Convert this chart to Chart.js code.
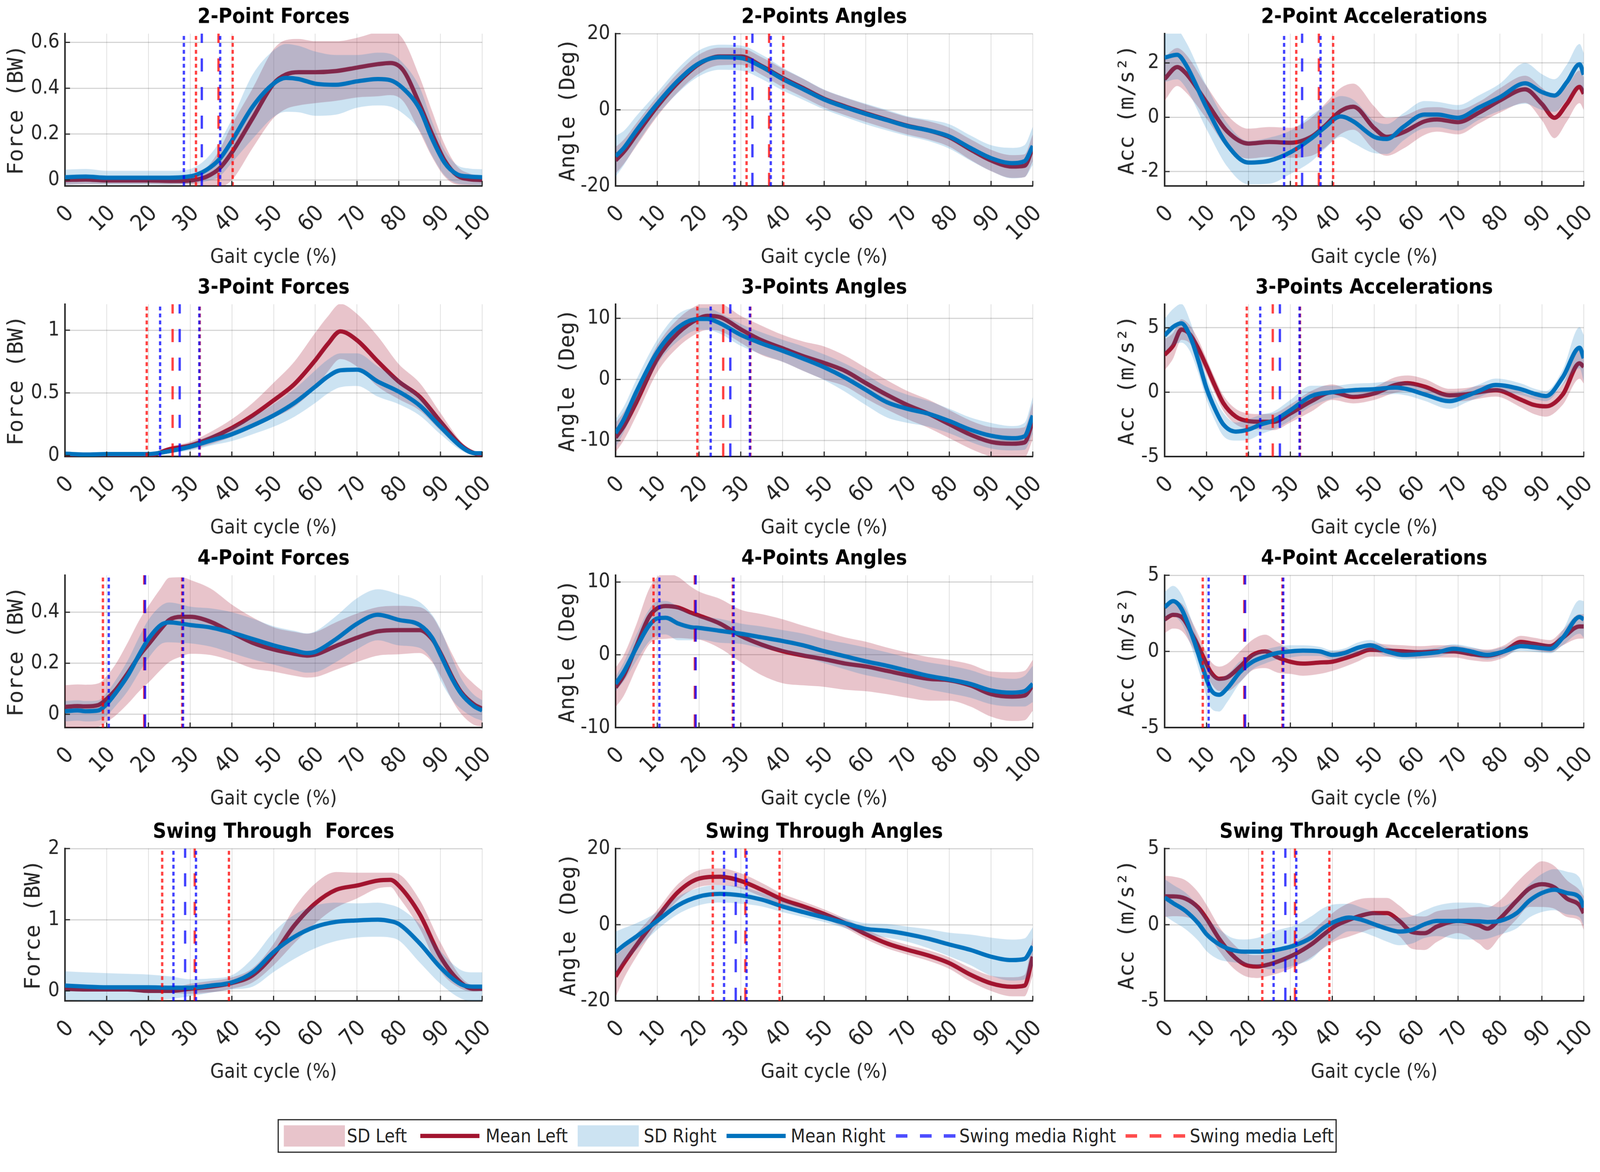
<!DOCTYPE html>
<html>
<head>
<meta charset="utf-8">
<script src="https://cdn.jsdelivr.net/npm/chart.js@4.4.1/dist/chart.umd.min.js"></script>
<style>
  html, body { margin: 0; padding: 0; background: #fff; overflow: hidden; }
  #page { position: absolute; left: 0; top: 0; width: 4138px; height: 3001px; transform-origin: 0 0; background: #fff; }
  .panel { position: absolute; }
  #legend { position: absolute; left: 718px; top: 2895px; width: 2739px; height: 87px; border: 3px solid #262626; box-sizing: border-box; background: #fff;
            font-family: 'DejaVu Sans Condensed', 'DejaVu Sans', sans-serif; }
  .sw { position: absolute; top: 13px; width: 158px; height: 55px; }
  .ln { position: absolute; top: 35px; width: 153px; height: 11px; }
  .ds { position: absolute; top: 36px; width: 156px; height: 9px; background: repeating-linear-gradient(90deg, var(--c) 0 30px, transparent 30px 62px); }
  .lt { position: absolute; top: 0; line-height: 81px; font-size: 48px; color: #262626; white-space: nowrap; }
</style>
</head>
<body>
<div id="page">
  <div id="legend">
    <span class="sw" style="left:13px;background:#e8c4cb"></span><span class="lt" style="left:176px">SD Left</span>
    <span class="ln" style="left:366px;background:#a2142f"></span><span class="lt" style="left:535px">Mean Left</span>
    <span class="sw" style="left:773px;background:#cce3f2"></span><span class="lt" style="left:944px">SD Right</span>
    <span class="ln" style="left:1158px;background:#0072bd"></span><span class="lt" style="left:1324px">Mean Right</span>
    <span class="ds" style="left:1596px;--c:#4d4dff"></span><span class="lt" style="left:1760px">Swing media Right</span>
    <span class="ds" style="left:2190px;--c:#ff4d4d"></span><span class="lt" style="left:2356px">Swing media Left</span>
  </div>
</div>
<script>
// ---- 2-Point ----
const f2X     = [0,5,10,15,20,25,28,31,34,37,40,45,50,53,56,60,65,70,75,78,81,85,88,91,94,97,100];
const f2MeanR = [.012,.015,.01,.01,.01,.01,.012,.02,.045,.09,.17,.32,.42,.445,.44,.42,.415,.43,.44,.435,.40,.31,.18,.075,.025,.015,.012];
const f2SdR   = [.033,.033,.03,.03,.03,.03,.03,.035,.05,.075,.095,.14,.145,.148,.145,.14,.13,.115,.115,.115,.11,.095,.075,.055,.04,.035,.035];
const f2MeanL = [0,.002,-.002,-.002,-.002,-.004,-.004,0,.015,.05,.12,.27,.42,.46,.47,.47,.475,.49,.505,.51,.48,.33,.2,.085,.02,.003,0];
const f2SdL   = [.02,.02,.015,.015,.015,.015,.015,.02,.04,.08,.12,.13,.15,.15,.145,.135,.13,.13,.14,.14,.135,.12,.1,.07,.04,.025,.02];

const a2X     = [0,2,5,10,15,20,25,30,35,40,45,50,55,60,65,70,75,80,85,90,95,98,100];
const a2MeanR = [-12.2,-10,-5.4,1.6,7.7,12.2,13.8,13.6,11.3,8.1,5.4,2.7,0.7,-1.1,-2.7,-4.3,-5.4,-7.0,-10,-12.7,-14,-13.5,-9.5];
const a2SdR   = [5.4,4.5,3.8,3,3.2,3.4,3.3,3.3,3.2,3,2.8,2.6,2.6,2.7,2.7,2.6,2.8,3.2,3.3,3.4,4,4.2,5];
const a2MeanL = [-13.3,-11,-6.5,0.9,7.2,12,14,14,11.5,8.4,5.7,2.9,0.9,-0.9,-2.6,-4.2,-5.4,-7.2,-10.4,-13.3,-14.9,-14.7,-10];
const a2SdL   = [3.5,3.2,3,2.6,2.5,2.5,2.3,2.2,2.3,2.4,2.4,2.3,2.3,2.3,2.3,2.3,2.4,2.5,2.7,2.8,3,3,3.5];

const c2X     = [0,3,5,10,15,20,25,30,35,38,42,45,50,53,57,62,65,70,75,80,86,90,93,96,99,100];
const c2MeanR = [2.2,2.3,1.95,0.36,-1.03,-1.67,-1.6,-1.29,-0.78,-0.4,0.03,-0.15,-0.72,-0.8,-0.35,0.1,0.1,-0.02,0.36,0.74,1.25,0.93,0.8,1.3,1.95,1.57];
const c2SdR   = [0.9,0.9,0.85,0.8,0.8,0.8,0.85,0.8,0.85,0.8,0.75,0.8,0.6,0.55,0.5,0.5,0.47,0.47,0.45,0.5,0.75,0.66,0.6,0.65,0.75,0.8];
const c2MeanL = [1.41,1.85,1.63,0.55,-0.53,-0.97,-0.91,-0.94,-0.72,-0.35,0.23,0.39,-0.4,-0.72,-0.55,-0.15,-0.08,-0.18,0.17,0.62,1.03,0.49,-0.02,0.5,1.12,0.87];
const c2SdL   = [0.8,0.7,0.7,0.6,0.6,0.55,0.55,0.55,0.7,0.8,0.85,0.85,0.8,0.7,0.6,0.5,0.45,0.45,0.4,0.45,0.5,0.6,0.75,0.65,0.6,0.6];

// ---- 3-Point ----
const f3X     = [0,5,10,15,20,25,30,35,40,45,50,55,60,63,66,70,75,80,85,90,95,98,100];
const f3MeanR = [.015,.008,.012,.012,.012,.035,.07,.12,.17,.24,.32,.42,.55,.63,.68,.685,.59,.51,.40,.23,.07,.02,.018];
const f3SdR   = [.015,.01,.01,.01,.01,.015,.03,.04,.055,.07,.09,.11,.13,.135,.135,.13,.12,.1,.08,.06,.03,.015,.01];
const f3MeanL = [.005,.003,.005,.005,0,.05,.08,.14,.22,.32,.44,.57,.76,.89,.99,.92,.75,.59,.47,.27,.08,.02,.008];
const f3SdL   = [.01,.01,.01,.01,.01,.02,.03,.05,.07,.1,.14,.18,.22,.22,.22,.21,.2,.14,.11,.07,.03,.015,.01];

const a3X     = [0,2,5,10,15,20,22,25,30,35,40,45,50,55,60,65,70,75,80,85,90,95,98,100];
const a3MeanR = [-8.8,-6.5,-2.0,4.5,8.5,9.9,9.9,9.2,7.3,5.9,4.7,3.4,2.0,0.3,-1.7,-3.7,-4.8,-5.6,-6.8,-8.2,-9.2,-9.6,-9.3,-5.9];
const a3SdR   = [2.3,2.1,2.0,2.0,2.2,1.8,1.8,1.7,1.8,1.8,1.8,2.0,2.1,2.3,2.5,2.5,2.3,2.1,2.0,2.0,2.1,2.0,2.2,3.0];
const a3MeanL = [-9.5,-7.6,-3.7,3.4,7.6,10,10.4,10.2,8.2,6.4,5.1,3.8,2.7,1.4,-0.6,-2.5,-4.2,-5.6,-7.3,-9.0,-10.2,-10.5,-10.3,-6.8];
const a3SdL   = [2.4,2.3,2.2,2.2,2.3,2.3,2.3,2.3,2.2,2.4,2.2,2.4,2.7,2.5,2.5,2.4,2.3,2.3,2.3,2.3,2.4,2.5,2.5,3.0];

const c3X     = [0,2,4,6,8,10,12,14,17,20,23,26,30,35,40,45,50,55,58,62,68,72,75,79,85,88,91,95,99,100];
const c3MeanR = [4.4,5.06,5.35,4.4,2.5,0.3,-1.3,-2.5,-3.06,-2.9,-2.5,-2.2,-1.4,-0.3,0.0,0.16,0.23,0.36,0.23,-0.17,-0.7,-0.3,0.1,0.56,0.23,-0.1,-0.3,1.17,3.45,2.64];
const c3SdR   = [1.3,1.4,1.5,1.2,1.0,0.9,0.9,0.9,0.7,0.8,0.75,0.7,0.8,0.8,0.5,0.5,0.5,0.5,0.5,0.5,0.6,0.5,0.5,0.5,0.45,0.4,0.4,0.6,1.6,1.8];
const c3MeanL = [2.9,3.6,4.86,4.5,3.4,2.0,0.5,-0.85,-1.9,-2.25,-2.3,-2.3,-1.65,-0.7,0,-0.37,-0.1,0.56,0.7,0.43,-0.24,-0.17,0,0.16,-0.58,-0.98,-1.1,-0.17,2.24,1.97];
const c3SdL   = [1.2,1.0,0.8,0.7,0.7,0.6,0.6,0.6,0.6,0.6,0.6,0.65,0.7,0.8,0.6,0.5,0.5,0.6,0.6,0.6,0.5,0.5,0.5,0.5,0.6,0.7,0.8,0.8,1.2,1.3];

// ---- 4-Point ----
const f4X     = [0,3,5,8,10,12,15,18,20,23,25,28,30,35,40,45,50,55,58,60,65,70,75,80,85,88,90,93,95,98,100];
const f4MeanR = [.012,.015,.012,.015,.04,.08,.15,.24,.295,.35,.36,.355,.35,.34,.32,.295,.27,.25,.24,.245,.295,.355,.39,.37,.35,.30,.234,.133,.08,.032,.015];
const f4SdR   = [.04,.04,.04,.04,.045,.05,.06,.07,.075,.075,.078,.075,.072,.075,.08,.08,.075,.077,.077,.08,.09,.1,.1,.1,.09,.09,.1,.08,.06,.045,.04];
const f4MeanL = [.029,.032,.031,.036,.06,.093,.16,.234,.274,.335,.37,.382,.382,.362,.32,.28,.254,.237,.23,.234,.268,.30,.325,.33,.33,.295,.24,.14,.086,.039,.022];
const f4SdL   = [.085,.085,.085,.085,.09,.1,.12,.14,.15,.16,.165,.155,.145,.13,.11,.1,.087,.086,.086,.088,.093,.095,.095,.095,.09,.09,.09,.09,.085,.08,.07];

const a4X     = [0,2,5,8,10,12,15,18,20,25,30,35,40,45,50,55,60,65,70,75,80,85,90,95,98,100];
const a4MeanR = [-4.0,-2.3,1.0,4.0,5.0,5.1,4.3,3.8,3.7,3.3,2.9,2.4,1.9,1.3,0.5,-0.2,-0.9,-1.5,-2.2,-2.9,-3.4,-4.0,-4.9,-5.2,-5.0,-4.0];
const a4SdR   = [1.0,1.3,1.8,2.2,2.35,2.3,2.3,1.8,1.6,1.65,1.4,1.5,1.5,1.6,1.65,1.8,1.9,1.85,1.8,1.85,1.9,1.9,1.9,1.9,2.1,2.5];
const a4MeanL = [-4.5,-2.8,1.2,5.2,6.4,6.7,6.5,5.8,5.4,4.3,2.6,1.4,0.5,-0.1,-0.6,-1.2,-1.6,-2.2,-2.8,-3.3,-3.5,-4.2,-5.4,-5.75,-5.6,-4.2];
const a4SdL   = [2.7,2.8,3.0,3.8,4.3,4.5,4.2,3.6,3.3,3.4,3.6,4.2,4.4,4.1,3.8,3.6,3.4,3.2,3.1,3.0,2.8,2.9,3.1,3.35,3.4,3.5];

const c4X     = [0,2,4,7,9,11,13,15,18,21,24,27,30,33,37,40,43,46,49,53,57,61,65,69,73,77,81,85,88,92,95,99,100];
const c4MeanR = [2.9,3.3,2.8,0.7,-1.0,-2.5,-2.85,-2.4,-1.35,-0.68,-0.34,-0.1,0,0.05,0,-0.23,-0.1,0.23,0.4,0,-0.23,-0.17,-0.06,0.17,0,-0.23,0,0.34,0.28,0.17,0.9,2.26,2.1];
const c4SdR   = [1.0,1.0,0.95,0.9,1.0,1.2,1.1,0.9,0.7,0.5,0.45,0.42,0.4,0.35,0.3,0.3,0.3,0.35,0.35,0.3,0.3,0.3,0.3,0.3,0.3,0.3,0.3,0.3,0.3,0.3,0.5,1.1,1.2];
const c4MeanL = [2.1,2.4,2.26,0.9,-0.23,-1.35,-1.8,-1.7,-1.0,-0.23,0,-0.4,-0.68,-0.8,-0.73,-0.68,-0.45,-0.17,0.11,0.06,0,-0.06,0,0,-0.17,-0.28,0,0.62,0.5,0.34,0.9,1.64,1.64];
const c4SdL   = [0.9,0.9,0.9,0.8,0.75,0.7,0.8,0.9,1.0,1.0,1.1,1.0,0.8,0.8,0.75,0.6,0.55,0.5,0.45,0.4,0.4,0.4,0.4,0.4,0.4,0.4,0.4,0.4,0.4,0.4,0.5,0.8,0.8];

// ---- Swing Through ----
const fsX     = [0,5,10,15,20,25,30,35,40,45,50,55,60,65,70,75,78,80,85,90,95,98,100];
const fsMeanR = [.075,.06,.05,.05,.05,.045,.045,.075,.12,.26,.545,.76,.9,.97,.99,1.0,.98,.94,.67,.33,.09,.06,.06];
const fsSdR   = [.2,.2,.2,.19,.18,.16,.12,.1,.1,.2,.28,.31,.3,.27,.24,.24,.23,.23,.27,.23,.2,.2,.2];
const fsMeanL = [.03,.02,.02,.02,0,0,.03,.06,.11,.22,.51,.92,1.23,1.42,1.48,1.55,1.56,1.48,1.08,.48,.11,.03,.03];
const fsSdL   = [.02,.02,.02,.02,.02,.03,.07,.08,.08,.1,.15,.25,.28,.25,.18,.11,.1,.16,.2,.2,.08,.04,.03];

const asX     = [0,2,5,10,15,20,25,30,35,40,45,50,55,60,65,70,75,80,85,90,95,98,100];
const asMeanR = [-7.2,-5.4,-3.1,1.0,5.1,7.4,8.1,7.7,6.6,4.8,3.3,1.9,0.4,-1.1,-1.6,-2.5,-3.7,-5.2,-6.6,-8.4,-9.3,-9.0,-5.7];
const asSdR   = [5.4,4.5,3.5,2.3,2.3,2.3,2.3,2.2,1.8,1.5,1.3,1.2,1.3,1.5,1.8,2.0,2.5,3.1,4.0,5.0,5.4,5.4,5.0];
const asMeanL = [-13.6,-10.1,-5.4,1.9,8.6,12.1,12.6,11.5,9.2,6.6,4.8,2.8,0.4,-2.5,-4.9,-6.6,-8.1,-10.1,-13.1,-15.4,-16.3,-16.0,-8.4];
const asSdL   = [5.5,4.0,3.0,2.0,2.1,2.2,2.2,2.0,1.8,1.5,1.3,1.2,1.2,1.3,1.3,1.3,1.4,1.5,1.8,2.0,2.5,2.8,5.0];

const csX     = [0,2,5,8,10,13,16,19,22,25,28,31,35,38,41,44,47,50,53,56,59,62,65,70,75,77,80,84,87,90,93,96,99,100];
const csMeanR = [1.79,1.42,0.9,0.1,-0.63,-1.29,-1.65,-1.77,-1.77,-1.73,-1.58,-1.36,-0.85,-0.19,0.25,0.47,0.32,0.03,-0.26,-0.45,-0.34,0.03,0.25,0.25,0.22,0.18,0.25,0.76,1.57,2.08,2.3,2.08,1.79,1.13];
const csSdR   = [1.2,1.2,1.2,1.15,1.1,1.0,0.8,0.8,0.9,1.2,1.3,1.3,1.4,1.3,1.1,0.9,0.8,0.8,0.85,0.9,0.9,0.9,1.0,1.2,1.2,1.1,0.9,1.0,1.1,1.25,1.35,1.4,1.3,1.2];
const csMeanL = [1.86,1.86,1.71,1.13,0.4,-0.92,-1.95,-2.6,-2.75,-2.6,-2.31,-1.95,-1.29,-0.63,-0.04,0.32,0.61,0.76,0.76,0.25,-0.48,-0.56,-0.12,0.25,-0.04,-0.26,0.4,1.57,2.37,2.66,2.45,1.71,1.27,0.76];
const csSdL   = [1.35,1.3,1.2,1.0,0.9,0.8,0.8,0.75,0.75,0.75,0.8,0.8,0.85,0.9,1.0,1.1,1.1,1.0,1.0,1.0,1.1,1.1,1.0,0.8,1.2,1.4,1.2,1.2,1.2,1.5,1.4,1.2,1.0,1.1];

// swing phase: [mean - SD, mean, mean + SD] (% gait cycle)
const swing2R = [28.5, 32.8, 37.2], swing2L = [31.4, 36.8, 40.2];
const swing3R = [22.8, 27.5, 32.2], swing3L = [19.6, 25.8, 32.3];
const swing4R = [10.5, 19.2, 28.3], swing4L = [9.1, 19.0, 28.1];
const swingSR = [26.0, 28.8, 31.4], swingSL = [23.3, 31.1, 39.3];

const panels = [
  { title: '2-Point Forces', yLabel: 'Force (BW)', x: f2X, mL: f2MeanL, sL: f2SdL, mR: f2MeanR, sR: f2SdR, swR: swing2R, swL: swing2L, yMin: -0.026, yMax: 0.638, yTicks: [0, 0.2, 0.4, 0.6], gap: 125 },
  { title: '2-Points Angles', yLabel: 'Angle (Deg)', x: a2X, mL: a2MeanL, sL: a2SdL, mR: a2MeanR, sR: a2SdR, swR: swing2R, swL: swing2L, yMin: -20, yMax: 20, yTicks: [-20, 0, 20], gap: 122 },
  { title: '2-Point Accelerations', yLabel: 'Acc (m/s²)', x: c2X, mL: c2MeanL, sL: c2SdL, mR: c2MeanR, sR: c2SdR, swR: swing2R, swL: swing2L, yMin: -2.53, yMax: 3.08, yTicks: [-2, 0, 2], gap: 96 },
  { title: '3-Point Forces', yLabel: 'Force (BW)', x: f3X, mL: f3MeanL, sL: f3SdL, mR: f3MeanR, sR: f3SdR, swR: swing3R, swL: swing3L, yMin: -0.008, yMax: 1.207, yTicks: [0, 0.5, 1], gap: 125 },
  { title: '3-Points Angles', yLabel: 'Angle (Deg)', x: a3X, mL: a3MeanL, sL: a3SdL, mR: a3MeanR, sR: a3SdR, swR: swing3R, swL: swing3L, yMin: -12.6, yMax: 12.3, yTicks: [-10, 0, 10], gap: 123 },
  { title: '3-Points Accelerations', yLabel: 'Acc (m/s²)', x: c3X, mL: c3MeanL, sL: c3SdL, mR: c3MeanR, sR: c3SdR, swR: swing3R, swL: swing3L, yMin: -5, yMax: 6.83, yTicks: [-5, 0, 5], gap: 96 },
  { title: '4-Point Forces', yLabel: 'Force (BW)', x: f4X, mL: f4MeanL, sL: f4SdL, mR: f4MeanR, sR: f4SdR, swR: swing4R, swL: swing4L, yMin: -0.052, yMax: 0.545, yTicks: [0, 0.2, 0.4], gap: 125 },
  { title: '4-Points Angles', yLabel: 'Angle (Deg)', x: a4X, mL: a4MeanL, sL: a4SdL, mR: a4MeanR, sR: a4SdR, swR: swing4R, swL: swing4L, yMin: -10, yMax: 10.94, yTicks: [-10, 0, 10], gap: 123 },
  { title: '4-Point Accelerations', yLabel: 'Acc (m/s²)', x: c4X, mL: c4MeanL, sL: c4SdL, mR: c4MeanR, sR: c4SdR, swR: swing4R, swL: swing4L, yMin: -5, yMax: 5, yTicks: [-5, 0, 5], gap: 96 },
  { title: 'Swing Through  Forces', yLabel: 'Force (BW)', x: fsX, mL: fsMeanL, sL: fsSdL, mR: fsMeanR, sR: fsSdR, swR: swingSR, swL: swingSL, yMin: -0.14, yMax: 2, yTicks: [0, 1, 2], gap: 81 },
  { title: 'Swing Through Angles', yLabel: 'Angle (Deg)', x: asX, mL: asMeanL, sL: asSdL, mR: asMeanR, sR: asSdR, swR: swingSR, swL: swingSL, yMin: -20, yMax: 20, yTicks: [-20, 0, 20], gap: 120 },
  { title: 'Swing Through Accelerations', yLabel: 'Acc (m/s²)', x: csX, mL: csMeanL, sL: csSdL, mR: csMeanR, sR: csSdR, swR: swingSR, swL: swingSL, yMin: -5, yMax: 5, yTicks: [-5, 0, 5], gap: 96 }
];

// fit the 4138x3001 page into whatever viewport we really get
const page = document.getElementById('page');
const S = Math.min(window.innerWidth / 4138, window.innerHeight / 3001);
page.style.transform = 'scale(' + S + ')';

// layout of the 4x3 grid (plot areas, px)
const LEFTS = [168, 1592, 3012], WIDTHS = [1079, 1079, 1084];
const TOPS = [87, 787, 1488, 2195], PLOT_H = 394;
const Y_W = 165, TITLE_H = 78, X_H = 240, R_PAD = 40;
const COND = "'DejaVu Sans Condensed', 'DejaVu Sans', sans-serif";
const MONO = "'DejaVu Sans Mono', monospace";
const INK = '#262626';

const RED = '#A2142F', BLUE = '#0072BD';
const SWING_BLUE = 'rgba(0,0,255,0.75)', SWING_RED = 'rgba(255,0,0,0.75)';

// small inward tick marks like the original axes
const innerTicks = {
  id: 'innerTicks',
  afterDraw(chart) {
    const { ctx, chartArea: a, scales: { x, y } } = chart;
    ctx.save();
    ctx.strokeStyle = INK;
    ctx.lineWidth = 3;
    x.ticks.forEach(t => {
      const px = x.getPixelForValue(t.value);
      ctx.beginPath(); ctx.moveTo(px, a.bottom); ctx.lineTo(px, a.bottom - 13); ctx.stroke();
    });
    y.ticks.forEach(t => {
      const py = y.getPixelForValue(t.value);
      ctx.beginPath(); ctx.moveTo(a.left, py); ctx.lineTo(a.left + 13, py); ctx.stroke();
    });
    ctx.restore();
  }
};

function pts(xs, ys) { return xs.map((x, k) => ({ x, y: ys[k] })); }
function offset(mean, sd, sign) { return mean.map((m, k) => m + sign * sd[k]); }

function curve(data, extra) {
  return Object.assign({
    type: 'line', data, pointRadius: 0, borderWidth: 0, borderColor: 'transparent',
    cubicInterpolationMode: 'monotone', fill: false, clip: 0
  }, extra);
}

function swingLines(vals, color, yMin, yMax) {
  return vals.map((v, k) => ({
    type: 'line',
    data: [{ x: v, y: yMin }, { x: v, y: yMax }],
    borderColor: color, borderWidth: 6,
    borderDash: k === 1 ? [34, 40] : [10, 8],
    pointRadius: 0, fill: false, order: 0, clip: 0
  }));
}

panels.forEach((p, i) => {
  const col = i % 3, row = Math.floor(i / 3);
  const L = LEFTS[col], T = TOPS[row], W = WIDTHS[col];
  const cw = Y_W + W + R_PAD, ch = TITLE_H + PLOT_H + X_H;
  const div = document.createElement('div');
  div.className = 'panel';
  div.style.left = (L - Y_W) + 'px';
  div.style.top = (T - TITLE_H) + 'px';
  const cv = document.createElement('canvas');
  cv.width = cw; cv.height = ch;
  cv.style.width = cw + 'px'; cv.style.height = ch + 'px';
  div.appendChild(cv);
  page.appendChild(div);

  const datasets = [
    curve(pts(p.x, offset(p.mL, p.sL, 1)), { label: 'SD Left', fill: '+1', backgroundColor: 'rgba(162,20,47,0.25)', order: 4 }),
    curve(pts(p.x, offset(p.mL, p.sL, -1)), { label: 'SD Left low', order: 4 }),
    curve(pts(p.x, p.mL), { label: 'Mean Left', borderColor: RED, borderWidth: 11, order: 3 }),
    curve(pts(p.x, offset(p.mR, p.sR, 1)), { label: 'SD Right', fill: '+1', backgroundColor: 'rgba(0,114,189,0.2)', order: 2 }),
    curve(pts(p.x, offset(p.mR, p.sR, -1)), { label: 'SD Right low', order: 2 }),
    curve(pts(p.x, p.mR), { label: 'Mean Right', borderColor: BLUE, borderWidth: 11, order: 1 }),
    ...swingLines(p.swR, SWING_BLUE, p.yMin, p.yMax),
    ...swingLines(p.swL, SWING_RED, p.yMin, p.yMax)
  ];

  new Chart(cv, {
    type: 'line',
    data: { datasets },
    plugins: [innerTicks],
    options: {
      responsive: false,
      animation: false,
      layout: { padding: { left: 0, right: R_PAD, top: 0, bottom: 0 } },
      plugins: {
        legend: { display: false },
        tooltip: { enabled: false },
        title: {
          display: true, text: p.title, color: '#000', fullSize: false,
          font: { family: COND, size: 54, weight: 'bold', lineHeight: 1 },
          padding: { top: 9, bottom: 15 }
        }
      },
      scales: {
        x: {
          type: 'linear', min: 0, max: 100,
          afterFit: s => { s.height = X_H; s.paddingLeft = 0; s.paddingRight = 0; },
          ticks: {
            stepSize: 10, autoSkip: false, minRotation: 45, maxRotation: 45,
            color: INK, padding: 38, labelOffset: 14, font: { family: COND, size: 58 },
            callback: v => String(v)
          },
          grid: { color: 'rgba(0,0,0,0.12)', lineWidth: 2, drawTicks: false },
          border: { color: INK, width: 4 },
          title: {
            display: true, text: 'Gait cycle (%)', color: INK,
            font: { family: COND, size: 52, lineHeight: 1 },
            padding: { top: 0, bottom: X_H - 185 - 26 }
          }
        },
        y: {
          min: p.yMin, max: p.yMax,
          afterFit: s => { s.width = Y_W; },
          afterBuildTicks: s => { s.ticks = p.yTicks.map(v => ({ value: v })); },
          ticks: { color: INK, padding: 14, font: { family: COND, size: 52 }, callback: v => String(v) },
          grid: { color: 'rgba(0,0,0,0.17)', lineWidth: 3, drawTicks: false },
          border: { color: INK, width: 4 },
          title: {
            display: true, text: p.yLabel, color: INK,
            font: { family: MONO, size: 56, lineHeight: 1 },
            padding: { top: Y_W - p.gap - 28, bottom: 0 }
          }
        }
      }
    }
  });
});
</script>
</body>
</html>
